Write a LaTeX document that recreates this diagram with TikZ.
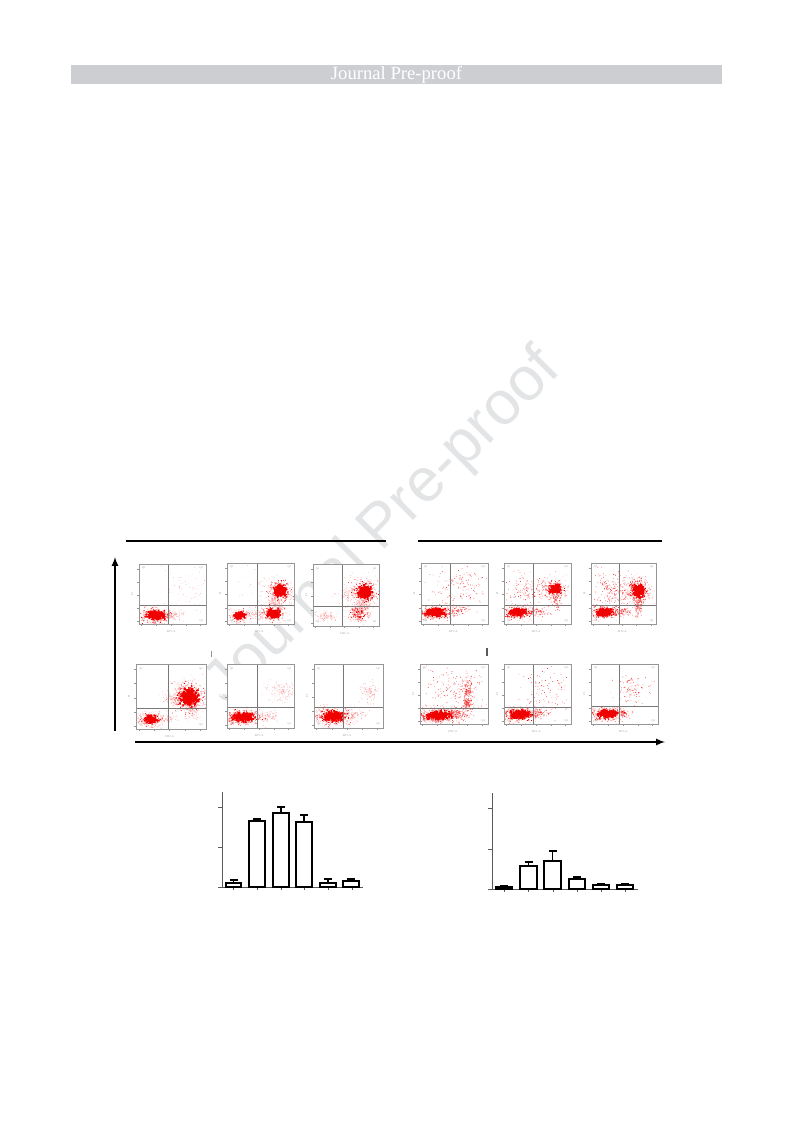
\documentclass[tikz,border=0pt]{standalone}
\usepackage{fontspec}
\setmainfont{Liberation Serif}
\newfontfamily\wmfont{Liberation Sans}
\usetikzlibrary{arrows}
\definecolor{headgray}{RGB}{205,206,210}
\definecolor{wmgray}{RGB}{226,228,230}
\definecolor{framegray}{RGB}{150,150,150}
\definecolor{axisgray}{RGB}{90,90,90}
\definecolor{dotred}{RGB}{240,0,0}
\tikzstyle{headtext}=[text=white, font=\fontsize{14}{16}\selectfont, inner sep=0pt]
\tikzstyle{watermark}=[text=wmgray, font=\wmfont\fontsize{46}{50}\selectfont,
anchor=base, rotate=45, inner sep=0pt]
\tikzstyle{plotframe}=[draw=framegray, line width=0.4pt]
\tikzstyle{gate}=[draw=framegray!80!black, line width=0.4pt]
\tikzstyle{tinylabel}=[text=framegray, font=\fontsize{2}{2.4}\selectfont, inner sep=0pt]
\tikzstyle{dot}=[fill=dotred]
\tikzstyle{fleck}=[fill=dotred, opacity=0.7]
\tikzstyle{lightdot}=[fill=dotred, opacity=0.3]
\tikzstyle{rule}=[line width=1.3pt]
\tikzstyle{bar}=[draw=black, line width=0.9pt, fill=white]
\tikzstyle{errbar}=[line width=0.9pt]
\tikzstyle{chartaxis}=[draw=axisgray, line width=0.6pt]

% random dots round a centre, one path per cloud: [size] x, y, half width, half height, dots, style
\newcommand{\cloud}[7][0.5pt]{%
\fill[#7] \foreach \k in {1,...,#6}{
({#2+#4*(rand+rand+rand)/1.5},{#3+#5*(rand+rand+rand)/1.5}) rectangle ++(#1,#1)};}

% dense population: centre, half width, half height, dots
\newcommand{\blob}[5]{%
\cloud{#1}{#2}{1.4*#3}{1.4*#4}{#5}{lightdot}
\cloud{#1}{#2}{#3}{#4}{#5}{dot}
\cloud[1.2pt]{#1}{#2}{0.55*#3}{0.55*#4}{#5}{dot}}

% one dot plot: name, left, top, right, bottom, gate x, gate y, dots
\newcommand{\facsplot}[8]{%
\begin{scope}[shift={(#2,#5)}, x={(#4-#2,0)}, y={(0,#3-#5)}]
\fill[white] (0,0) rectangle (1,1);
\begin{scope}
\clip (0,0) rectangle (1,1);
#8
\end{scope}
\draw[gate] (#6,0) -- (#6,1);
\draw[gate] (0,#7) -- (1,#7);
\draw[plotframe] (0,0) rectangle (1,1);
\foreach \t in {0.04,0.26,0.48,0.7,0.92}{
\draw[plotframe] (\t,0) -- (\t,-0.035);
\draw[plotframe] (0,\t) -- (-0.035,\t);}
\node[tinylabel] (#1-q1) at (0.07,0.93) {Q1};
\node[tinylabel] (#1-q2) at (0.93,0.93) {Q2};
\node[tinylabel] (#1-q3) at (0.93,0.06) {Q3};
\node[tinylabel] (#1-q4) at (0.07,0.06) {Q4};
\node[tinylabel] (#1-x) at (0.48,-0.12) {FITC-A};
\node[tinylabel, rotate=90] (#1-y) at (-0.1,0.5) {PI};
\end{scope}}

\begin{document}
\begin{tikzpicture}[x=0.75pt, y=-0.75pt]
\useasboundingbox (0,0) rectangle (793,1123);
\fill[white] (0,0) rectangle (793,1123);
\pgfmathsetseed{11}

% header and watermark
\fill[headgray] (71,65) rectangle (722,84);
\node[headtext] (head) at (396.5,75) {Journal Pre-proof};
\node[watermark] (wm) at (395,539) {Journal Pre-proof};

% left group
\facsplot{p1}{139}{564}{206}{624}{0.43}{0.32}{
\cloud{0.47}{0.15}{0.16}{0.07}{110}{lightdot}
\cloud{0.7}{0.6}{0.25}{0.25}{60}{lightdot}
\blob{0.23}{0.13}{0.16}{0.09}{200}}
\facsplot{p2}{227}{563}{294}{624}{0.45}{0.31}{
\cloud{0.72}{0.35}{0.08}{0.12}{140}{lightdot}
\cloud{0.42}{0.15}{0.15}{0.05}{80}{lightdot}
\cloud{0.5}{0.55}{0.3}{0.3}{50}{lightdot}
\blob{0.18}{0.13}{0.1}{0.07}{100}
\blob{0.68}{0.16}{0.12}{0.09}{140}
\blob{0.78}{0.53}{0.12}{0.11}{180}}
\facsplot{p3}{313}{564}{379}{626}{0.44}{0.32}{
\cloud{0.19}{0.15}{0.12}{0.06}{100}{lightdot}
\cloud{0.72}{0.35}{0.1}{0.12}{150}{lightdot}
\cloud{0.55}{0.5}{0.15}{0.12}{90}{lightdot}
\cloud{0.68}{0.19}{0.13}{0.1}{130}{lightdot}
\cloud{0.68}{0.19}{0.11}{0.08}{110}{dot}
\blob{0.77}{0.54}{0.13}{0.13}{220}}
\facsplot{p4}{136}{664}{206}{729}{0.46}{0.32}{
\cloud{0.42}{0.15}{0.12}{0.05}{70}{lightdot}
\cloud{0.6}{0.47}{0.15}{0.1}{130}{lightdot}
\cloud{0.8}{0.3}{0.07}{0.1}{110}{lightdot}
\blob{0.2}{0.14}{0.11}{0.07}{120}
\blob{0.75}{0.48}{0.16}{0.15}{280}}
\facsplot{p5}{227}{664}{294}{728}{0.45}{0.33}{
\cloud{0.56}{0.18}{0.14}{0.06}{100}{lightdot}
\cloud{0.8}{0.57}{0.16}{0.13}{130}{lightdot}
\blob{0.23}{0.16}{0.19}{0.08}{240}}
\facsplot{p6}{314}{664}{383}{728}{0.42}{0.33}{
\cloud{0.56}{0.2}{0.14}{0.06}{100}{lightdot}
\cloud{0.8}{0.56}{0.1}{0.12}{110}{lightdot}
\blob{0.27}{0.17}{0.17}{0.09}{240}}

% right group
\facsplot{p7}{421}{563}{488}{624}{0.43}{0.3}{
\cloud{0.5}{0.2}{0.15}{0.06}{80}{fleck}
\cloud{0.55}{0.6}{0.3}{0.3}{150}{fleck}
\blob{0.2}{0.18}{0.17}{0.07}{220}}
\facsplot{p8}{504}{563}{571}{624}{0.43}{0.3}{
\cloud{0.4}{0.55}{0.3}{0.2}{180}{fleck}
\cloud{0.5}{0.19}{0.15}{0.05}{80}{fleck}
\cloud{0.78}{0.35}{0.04}{0.1}{60}{fleck}
\blob{0.2}{0.18}{0.15}{0.07}{200}
\blob{0.75}{0.57}{0.1}{0.09}{140}}
\facsplot{p9}{591}{563}{656}{624}{0.43}{0.3}{
\cloud{0.4}{0.55}{0.3}{0.22}{240}{fleck}
\cloud{0.72}{0.3}{0.05}{0.12}{100}{fleck}
\cloud{0.45}{0.19}{0.12}{0.05}{90}{fleck}
\blob{0.19}{0.18}{0.14}{0.07}{180}
\blob{0.72}{0.53}{0.11}{0.13}{200}}
\facsplot{p10}{420}{664}{488}{724}{0}{0.27}{
\cloud{0.52}{0.17}{0.15}{0.07}{140}{fleck}
\cloud{0.7}{0.33}{0.05}{0.08}{100}{fleck}
\cloud{0.7}{0.58}{0.06}{0.14}{110}{fleck}
\cloud{0.5}{0.55}{0.4}{0.3}{170}{fleck}
\blob{0.26}{0.13}{0.21}{0.08}{250}}
\facsplot{p11}{504}{664}{571}{724}{0.43}{0.28}{
\cloud{0.5}{0.17}{0.12}{0.05}{80}{fleck}
\cloud{0.6}{0.55}{0.3}{0.28}{110}{fleck}
\blob{0.23}{0.15}{0.18}{0.08}{230}}
\facsplot{p12}{591}{664}{658}{724}{0.42}{0.3}{
\cloud{0.45}{0.17}{0.1}{0.05}{70}{fleck}
\cloud{0.6}{0.56}{0.2}{0.15}{90}{fleck}
\blob{0.23}{0.16}{0.18}{0.07}{220}}

% rules and axes arrows
\coordinate (ll) at (126,541);
\coordinate (lr) at (386,541);
\coordinate (rl) at (418,541);
\coordinate (rr) at (662,541);
\coordinate (ybot) at (115,731);
\coordinate (ytop) at (115,557);
\coordinate (xleft) at (135,742);
\coordinate (xright) at (665,742);
\draw[rule] (ll) -- (lr);
\draw[rule] (rl) -- (rr);
\draw[rule,-latex] (ybot) -- (ytop);
\draw[rule,-latex] (xleft) -- (xright);
\draw[draw=framegray, line width=0.5pt] (211,651) -- (211,657);
\draw[draw=axisgray, line width=1.2pt] (487,648) -- (487,656);

% left bar chart
\draw[chartaxis] (222,792) -- (222,887) -- (363,887);
\foreach \y in {807,847,887}
\draw[chartaxis] (218,\y) -- (222,\y);
\foreach \x in {233,257,281,304,328,352}
\draw[chartaxis] (\x,887) -- (\x,890);
\foreach \l/\r/\t/\e in {226/241/883/880, 249/265/821/819, 273/289/813/807,
296/312/822/815, 320/336/883/879, 343/359/881/879}{
\draw[errbar] ({(\l+\r)/2},\t) -- ({(\l+\r)/2},\e) ({(\l+\r)/2-4},\e) -- ({(\l+\r)/2+4},\e);
\draw[bar] (\l,887) rectangle (\r,\t);}

% right bar chart
\draw[chartaxis] (492,793) -- (492,889) -- (638,889);
\foreach \y in {808,849,889}
\draw[chartaxis] (488,\y) -- (492,\y);
\foreach \x in {504,528,553,577,601,625}
\draw[chartaxis] (\x,889) -- (\x,892);
\foreach \l/\r/\t/\e in {496/512/887/886, 520/537/866/862, 544/561/861/851,
569/585/879/877, 593/609/885/884, 617/633/885/884}{
\draw[errbar] ({(\l+\r)/2},\t) -- ({(\l+\r)/2},\e) ({(\l+\r)/2-4},\e) -- ({(\l+\r)/2+4},\e);
\draw[bar] (\l,889) rectangle (\r,\t);}
\end{tikzpicture}
\end{document}
